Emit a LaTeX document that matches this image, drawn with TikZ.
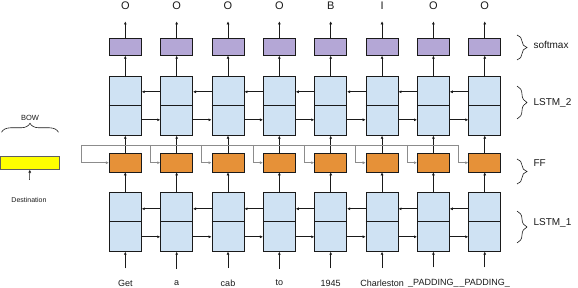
\documentclass[tikz,border=0pt]{standalone}
\usepackage{fontspec}
\setmainfont{Liberation Sans}
\usetikzlibrary{arrows.meta,positioning,calc,decorations.pathreplacing}
\definecolor{cellblue}{HTML}{CFE2F3}
\definecolor{lilac}{HTML}{B4A7D6}
\definecolor{amber}{HTML}{E69138}
\definecolor{lemon}{HTML}{FFFF00}
\definecolor{ink}{HTML}{1A1A1A}
\definecolor{wire}{HTML}{8C8C8C}
\tikzset{
  unit/.style={draw=ink,line width=0.8pt,minimum width=32pt,inner sep=0pt},
  lstm/.style={unit,fill=cellblue,minimum height=59pt},
  smbox/.style={unit,fill=lilac,minimum height=17pt},
  ffbox/.style={unit,fill=amber,minimum height=18.5pt},
  arrow/.style={-{Latex[length=3pt,width=3pt]},line width=0.6pt,color=ink},
  busline/.style={draw=wire,line width=0.8pt},
  busarrow/.style={busline,-{Latex[length=3pt,width=3pt]}},
  tag/.style={font=\fontsize{11}{12}\selectfont,text=ink},
  word/.style={font=\fontsize{9}{10}\selectfont,text=ink},
  lbl/.style={font=\fontsize{10}{11}\selectfont,text=ink,anchor=west},
  brc/.style={decorate,decoration={brace,amplitude=#1},draw=ink,line width=0.6pt},
}
\begin{document}
\begin{tikzpicture}[x=1pt,y=-1pt]
  \useasboundingbox (0,0) rectangle (578,288);
  % one column per token
  \foreach \t/\w [count=\i] in {O/Get,O/a,O/cab,O/to,B/1945,I/Charleston,O/\_PADDING\_,O/\_PADDING\_} {
    \pgfmathsetmacro\cx{125.3+51.35*(\i-1)}
    \node[tag] (out_\i) at (\cx,6) {\t};
    \node[smbox] (sm_\i) at (\cx,46.8) {};
    \node[lstm] (l2_\i) at (\cx,105.8) {};
    \node[ffbox] (ff_\i) at (\cx,162.7) {};
    \node[lstm] (l1_\i) at (\cx,221.8) {};
    \node[word] (w_\i) at (\cx,283) {\w};
    \draw[ink,line width=0.8pt] (l2_\i.west) -- (l2_\i.east);
    \draw[ink,line width=0.8pt] (l1_\i.west) -- (l1_\i.east);
    \draw[arrow,shorten <=8pt] (w_\i) -- (l1_\i);
    \draw[arrow] (l1_\i) -- (ff_\i);
    \draw[arrow] (ff_\i) -- (l2_\i);
    \draw[arrow] (l2_\i) -- (sm_\i);
    \draw[arrow,shorten >=8pt] (sm_\i) -- (out_\i);
  }
  % recurrent links, backward on top, forward below
  \foreach \i [evaluate=\i as \j using int(\i+1)] in {1,...,7} {
    \draw[arrow] ([yshift=14pt]l2_\j.west) -- ([yshift=14pt]l2_\i.east);
    \draw[arrow] ([yshift=-14pt]l2_\i.east) -- ([yshift=-14pt]l2_\j.west);
    \draw[arrow] ([yshift=13pt]l1_\j.west) -- ([yshift=13pt]l1_\i.east);
    \draw[arrow] ([yshift=-15pt]l1_\i.east) -- ([yshift=-15pt]l1_\j.west);
  }
  % bag of words input
  \node[draw=ink!70,line width=0.8pt,fill=lemon,minimum width=58.5pt,minimum height=12.6pt,inner sep=0pt] (bow) at (30,163) {};
  \node[font=\fontsize{7.5}{9}\selectfont,text=ink] (bowlbl) at (30,118) {BOW};
  \node[font=\fontsize{7}{8}\selectfont,text=ink] (dest) at (29,200) {Destination};
  \draw[arrow,shorten <=14pt] (dest) -- (bow);
  \draw[brc=9pt] ([xshift=-28.5pt,yshift=24pt]bow.north) -- ([xshift=28.5pt,yshift=24pt]bow.north);
  \coordinate (busL) at (81.7,145);
  \coordinate (busR) at (458.3,145);
  \draw[busline] (busL) -- (busR);
  \draw[busarrow] (busL) |- (ff_1.west);
  \foreach \i in {2,...,8} {
    \coordinate (tap_\i) at ($(busL -| ff_\i.west)+(-10,0)$);
    \draw[busarrow] (tap_\i) |- (ff_\i.west);
  }
  % layer braces
  \draw[brc=10pt] (517,35) -- (517,60);
  \draw[brc=10pt] (517,86) -- (517,119);
  \draw[brc=10pt] (517,159) -- (517,184);
  \draw[brc=10pt] (517,211) -- (517,243);
  \node[lbl] (lsm) at (530,45) {softmax};
  \node[lbl] (ll2) at (530,103) {LSTM\_2};
  \node[lbl] (lff) at (530,163) {FF};
  \node[lbl] (ll1) at (530,223) {LSTM\_1};
\end{tikzpicture}
\end{document}
